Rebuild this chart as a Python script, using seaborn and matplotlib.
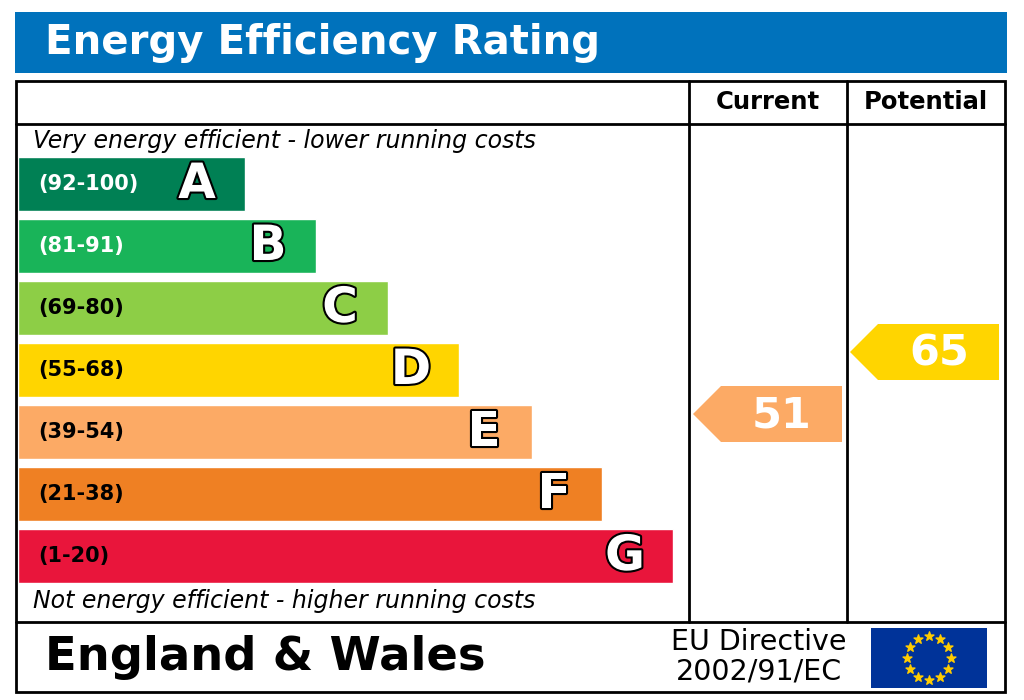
import matplotlib
matplotlib.use("Agg")
import matplotlib.pyplot as plt
import matplotlib.patheffects as pe
from matplotlib.patches import Rectangle, Polygon
import numpy as np
import pandas as pd
import seaborn as sns

sns.set_style("white")
plt.rcParams['font.family'] = ['DejaVu Sans']
plt.rcParams['text.color'] = 'black'

bands = ["A", "B", "C", "D", "E", "F", "G"]
ranges = ["(92-100)", "(81-91)", "(69-80)", "(55-68)", "(39-54)", "(21-38)", "(1-20)"]
bar_lengths = [227, 298, 370, 441, 514, 584, 655]
colors = ["#008054", "#19b459", "#8dce46", "#ffd500", "#fcaa65", "#ef8023", "#e9153b"]
current_value = 51
current_band = "E"
potential_value = 65
potential_band = "D"

W, H = 1024, 700
fig = plt.figure(figsize=(W/100, H/100), dpi=100)
ax = fig.add_axes([0, 0, 1, 1])
ax.set_xlim(0, W); ax.set_ylim(H, 0); ax.axis("off")

ax.add_patch(Rectangle((15, 12), 992, 61, color="#0072bc", lw=0))
ax.text(45, 43, "Energy Efficiency Rating", color="white", fontsize=29, fontweight="bold", va="center")

lw = 2
ax.add_patch(Rectangle((16, 81), 989, 611, fill=False, ec="black", lw=lw))
ax.plot([16, 1005], [124, 124], color="black", lw=lw)
ax.plot([16, 1005], [622, 622], color="black", lw=lw)
ax.plot([689, 689], [81, 622], color="black", lw=lw)
ax.plot([847, 847], [81, 622], color="black", lw=lw)
ax.text(768, 102, "Current", fontsize=17.5, fontweight="bold", ha="center", va="center")
ax.text(926, 102, "Potential", fontsize=17.5, fontweight="bold", ha="center", va="center")
ax.text(33, 141, "Very energy efficient - lower running costs", fontsize=17, style="italic", va="center")
ax.text(33, 601, "Not energy efficient - higher running costs", fontsize=17, style="italic", va="center")

bax = fig.add_axes([18/W, 1-587/H, 670/W, 434/H])
df = pd.DataFrame({"band": bands, "len": bar_lengths})
sns.barplot(data=df, x="len", y="band", hue="band", palette=colors, orient="h",
            width=0.87, ax=bax, legend=False, saturation=1)
bax.set_xlim(0, 670); bax.axis("off")
for i, (b, r, L) in enumerate(zip(bands, ranges, bar_lengths)):
    tc = "white" if i in (0, 1) else "black"
    bax.text(20, i, r, fontsize=15, fontweight="bold", color=tc, va="center")
    bax.text(L - 48, i, b, fontsize=35, fontweight="bold", color="white", ha="center", va="center",
             path_effects=[pe.withStroke(linewidth=3, foreground="black")])

def arrow(x0, x1, band, val):
    i = bands.index(band)
    yc = 587 - 434 + (i + 0.5) * 62 - 18
    h = 28
    pts = [(x0, yc), (x0 + 28, yc - h), (x1, yc - h), (x1, yc + h), (x0 + 28, yc + h)]
    ax.add_patch(Polygon(pts, closed=True, color=colors[i], lw=0))
    ax.text(x1 - 60, yc + 1, str(val), color="white", fontsize=31, fontweight="bold", ha="center", va="center")

arrow(693, 842, current_band, current_value)
arrow(850, 999, potential_band, potential_value)

ax.text(45, 657, "England & Wales", fontsize=33.5, fontweight="bold", va="center")
ax.text(759, 642, "EU Directive", fontsize=20.5, ha="center", va="center")
ax.text(759, 672, "2002/91/EC", fontsize=20.5, ha="center", va="center")
ax.add_patch(Rectangle((871, 628), 116, 60, color="#003399", lw=0))
ang = np.linspace(0, 2*np.pi, 13)[:-1]
ax.scatter(929 + 22*np.cos(ang), 658 + 22*np.sin(ang), marker="*", s=45, color="#ffcc00", zorder=5)

fig.savefig("out.png", dpi=100)
